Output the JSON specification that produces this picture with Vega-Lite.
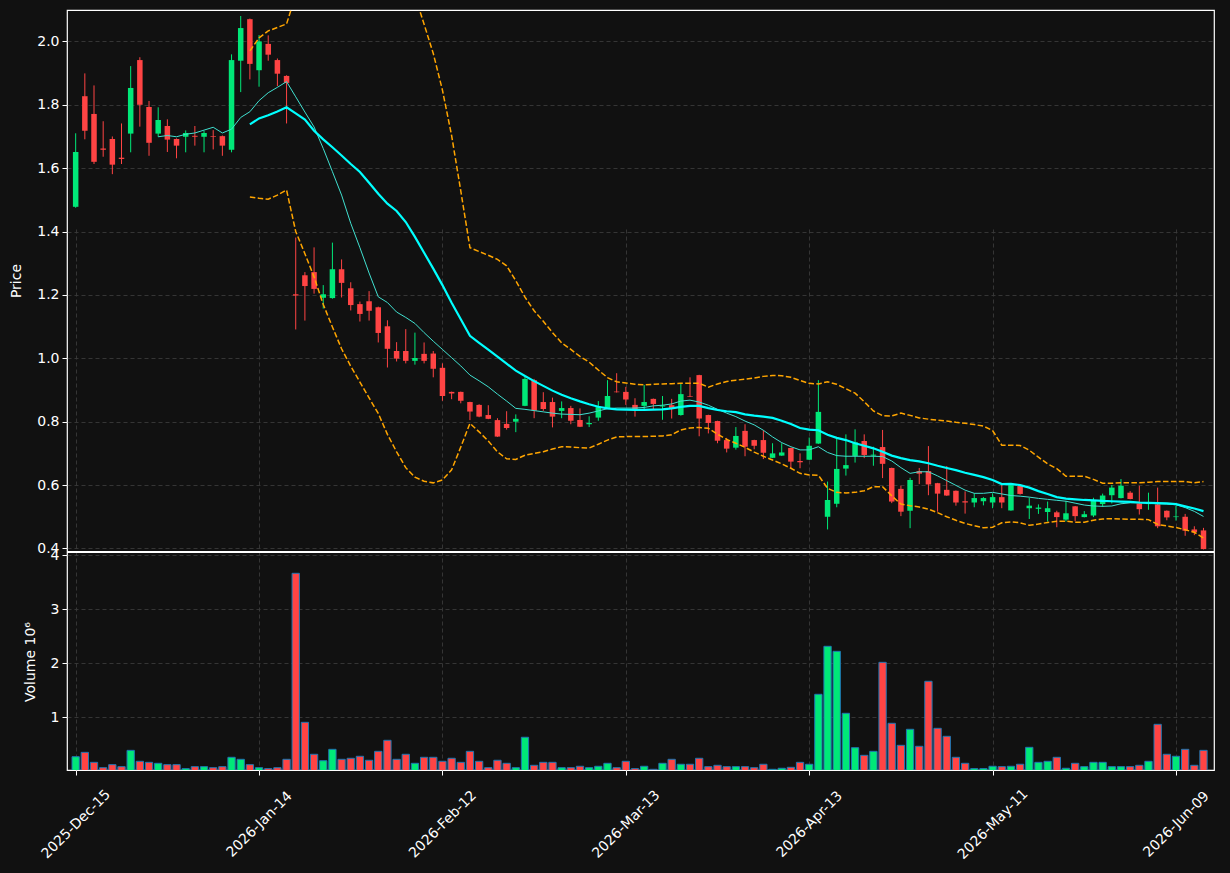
{
"$schema":"https://vega.github.io/schema/vega-lite/v6.json",
"width":1147,"height":760,
"autosize":{"type":"none"},
"padding":{"left":67,"top":10,"right":16,"bottom":103},
"background":"#111111",
"config":{
 "view":{"stroke":"#ffffff","strokeWidth":1.2},
 "font":"DejaVu Sans",
 "axis":{"labelColor":"#ffffff","titleColor":"#ffffff","tickColor":"#ffffff","domain":false,"labelFont":"DejaVu Sans","titleFont":"DejaVu Sans","labelFontSize":14,"titleFontSize":14,"titleFontWeight":"normal","gridColor":"#3a3a3a","gridDash":[4,3],"gridWidth":0.9,"tickSize":5,"tickWidth":1}
},
"data":{"values":[
{"i":0,"d":"2025-12-15","o":1.478,"h":1.710,"l":1.475,"c":1.651,"v":270000},
{"i":1,"d":"2025-12-16","o":1.827,"h":1.899,"l":1.691,"c":1.718,"v":351000},
{"i":2,"d":"2025-12-17","o":1.771,"h":1.861,"l":1.613,"c":1.620,"v":166000},
{"i":3,"d":"2025-12-18","o":1.662,"h":1.748,"l":1.636,"c":1.658,"v":67000},
{"i":4,"d":"2025-12-19","o":1.692,"h":1.700,"l":1.581,"c":1.611,"v":123000},
{"i":5,"d":"2025-12-22","o":1.633,"h":1.741,"l":1.613,"c":1.629,"v":86000},
{"i":6,"d":"2025-12-23","o":1.709,"h":1.922,"l":1.650,"c":1.853,"v":388000},
{"i":7,"d":"2025-12-24","o":1.941,"h":1.950,"l":1.731,"c":1.800,"v":185000},
{"i":8,"d":"2025-12-26","o":1.793,"h":1.812,"l":1.639,"c":1.680,"v":166000},
{"i":9,"d":"2025-12-29","o":1.709,"h":1.792,"l":1.699,"c":1.752,"v":148000,"ma10":1.699},
{"i":10,"d":"2025-12-30","o":1.733,"h":1.754,"l":1.651,"c":1.690,"v":123000,"ma10":1.703},
{"i":11,"d":"2025-12-31","o":1.692,"h":1.694,"l":1.631,"c":1.671,"v":123000,"ma10":1.699},
{"i":12,"d":"2026-01-02","o":1.699,"h":1.719,"l":1.650,"c":1.711,"v":49000,"ma10":1.707},
{"i":13,"d":"2026-01-05","o":1.702,"h":1.733,"l":1.671,"c":1.699,"v":86000,"ma10":1.711},
{"i":14,"d":"2026-01-06","o":1.699,"h":1.718,"l":1.650,"c":1.711,"v":86000,"ma10":1.720},
{"i":15,"d":"2026-01-07","o":1.701,"h":1.720,"l":1.659,"c":1.699,"v":67000,"ma10":1.729},
{"i":16,"d":"2026-01-08","o":1.701,"h":1.703,"l":1.639,"c":1.671,"v":86000,"ma10":1.711},
{"i":17,"d":"2026-01-09","o":1.658,"h":1.959,"l":1.650,"c":1.941,"v":259000,"ma10":1.723},
{"i":18,"d":"2026-01-12","o":1.939,"h":2.080,"l":1.840,"c":2.042,"v":222000,"ma10":1.760},
{"i":19,"d":"2026-01-13","o":2.070,"h":2.072,"l":1.880,"c":1.929,"v":123000,"ma10":1.778,"ma20":1.738,"bbu":1.970,"bbl":1.509},
{"i":20,"d":"2026-01-14","o":1.909,"h":2.020,"l":1.857,"c":2.000,"v":67000,"ma10":1.813,"ma20":1.757,"bbu":2.011,"bbl":1.505},
{"i":21,"d":"2026-01-15","o":1.992,"h":2.019,"l":1.939,"c":1.958,"v":49000,"ma10":1.838,"ma20":1.767,"bbu":2.033,"bbl":1.502},
{"i":22,"d":"2026-01-16","o":1.941,"h":1.946,"l":1.859,"c":1.898,"v":67000,"ma10":1.855,"ma20":1.779,"bbu":2.044,"bbl":1.515},
{"i":23,"d":"2026-01-20","o":1.891,"h":1.893,"l":1.741,"c":1.869,"v":222000,"ma10":1.873,"ma20":1.792,"bbu":2.055,"bbl":1.531},
{"i":24,"d":"2026-01-21","o":1.202,"h":1.381,"l":1.091,"c":1.198,"v":3667000,"ma10":1.825,"ma20":1.773,"bbu":2.146,"bbl":1.400},
{"i":25,"d":"2026-01-22","o":1.262,"h":1.272,"l":1.119,"c":1.228,"v":907000,"ma10":1.777,"ma20":1.753,"bbu":2.176,"bbl":1.330},
{"i":26,"d":"2026-01-23","o":1.272,"h":1.350,"l":1.204,"c":1.219,"v":315000,"ma10":1.730,"ma20":1.718,"bbu":2.179,"bbl":1.257},
{"i":27,"d":"2026-01-26","o":1.191,"h":1.231,"l":1.157,"c":1.202,"v":196000,"ma10":1.662,"ma20":1.691,"bbu":2.212,"bbl":1.170},
{"i":28,"d":"2026-01-27","o":1.190,"h":1.365,"l":1.188,"c":1.281,"v":407000,"ma10":1.589,"ma20":1.666,"bbu":2.233,"bbl":1.099},
{"i":29,"d":"2026-01-28","o":1.281,"h":1.312,"l":1.192,"c":1.238,"v":222000,"ma10":1.515,"ma20":1.640,"bbu":2.250,"bbl":1.030},
{"i":30,"d":"2026-01-29","o":1.221,"h":1.240,"l":1.151,"c":1.168,"v":241000,"ma10":1.426,"ma20":1.613,"bbu":2.251,"bbl":0.975},
{"i":31,"d":"2026-01-30","o":1.171,"h":1.179,"l":1.116,"c":1.140,"v":278000,"ma10":1.349,"ma20":1.588,"bbu":2.251,"bbl":0.925},
{"i":32,"d":"2026-02-02","o":1.180,"h":1.212,"l":1.119,"c":1.150,"v":204000,"ma10":1.269,"ma20":1.554,"bbu":2.233,"bbl":0.875},
{"i":33,"d":"2026-02-03","o":1.161,"h":1.163,"l":1.050,"c":1.080,"v":370000,"ma10":1.194,"ma20":1.519,"bbu":2.212,"bbl":0.826},
{"i":34,"d":"2026-02-04","o":1.101,"h":1.120,"l":0.971,"c":1.030,"v":574000,"ma10":1.176,"ma20":1.488,"bbu":2.216,"bbl":0.760},
{"i":35,"d":"2026-02-05","o":1.023,"h":1.051,"l":0.990,"c":0.999,"v":222000,"ma10":1.146,"ma20":1.465,"bbu":2.225,"bbl":0.705},
{"i":36,"d":"2026-02-06","o":1.023,"h":1.092,"l":0.984,"c":0.992,"v":315000,"ma10":1.129,"ma20":1.430,"bbu":2.205,"bbl":0.655},
{"i":37,"d":"2026-02-09","o":0.992,"h":1.081,"l":0.980,"c":1.001,"v":148000,"ma10":1.110,"ma20":1.383,"bbu":2.144,"bbl":0.625},
{"i":38,"d":"2026-02-10","o":1.014,"h":1.050,"l":0.984,"c":0.992,"v":259000,"ma10":1.081,"ma20":1.333,"bbu":2.054,"bbl":0.612},
{"i":39,"d":"2026-02-11","o":1.015,"h":1.023,"l":0.940,"c":0.967,"v":259000,"ma10":1.054,"ma20":1.283,"bbu":1.962,"bbl":0.607},
{"i":40,"d":"2026-02-12","o":0.970,"h":0.984,"l":0.866,"c":0.881,"v":185000,"ma10":1.028,"ma20":1.231,"bbu":1.846,"bbl":0.616},
{"i":41,"d":"2026-02-13","o":0.894,"h":0.895,"l":0.871,"c":0.889,"v":241000,"ma10":1.002,"ma20":1.175,"bbu":1.703,"bbl":0.648},
{"i":42,"d":"2026-02-17","o":0.894,"h":0.895,"l":0.858,"c":0.866,"v":166000,"ma10":0.976,"ma20":1.123,"bbu":1.528,"bbl":0.720},
{"i":43,"d":"2026-02-18","o":0.862,"h":0.863,"l":0.805,"c":0.832,"v":370000,"ma10":0.947,"ma20":1.071,"bbu":1.349,"bbl":0.795},
{"i":44,"d":"2026-02-19","o":0.853,"h":0.855,"l":0.814,"c":0.816,"v":185000,"ma10":0.929,"ma20":1.049,"bbu":1.337,"bbl":0.768},
{"i":45,"d":"2026-02-20","o":0.821,"h":0.852,"l":0.808,"c":0.809,"v":67000,"ma10":0.910,"ma20":1.027,"bbu":1.325,"bbl":0.739},
{"i":46,"d":"2026-02-23","o":0.805,"h":0.811,"l":0.752,"c":0.753,"v":204000,"ma10":0.887,"ma20":1.005,"bbu":1.312,"bbl":0.705},
{"i":47,"d":"2026-02-24","o":0.793,"h":0.833,"l":0.775,"c":0.780,"v":148000,"ma10":0.865,"ma20":0.983,"bbu":1.292,"bbl":0.683},
{"i":48,"d":"2026-02-25","o":0.800,"h":0.823,"l":0.767,"c":0.809,"v":67000,"ma10":0.842,"ma20":0.961,"bbu":1.245,"bbl":0.681},
{"i":49,"d":"2026-02-26","o":0.850,"h":0.947,"l":0.849,"c":0.935,"v":630000,"ma10":0.839,"ma20":0.944,"bbu":1.193,"bbl":0.694},
{"i":50,"d":"2026-02-27","o":0.931,"h":0.935,"l":0.811,"c":0.835,"v":111000,"ma10":0.835,"ma20":0.928,"bbu":1.150,"bbl":0.700},
{"i":51,"d":"2026-03-02","o":0.862,"h":0.893,"l":0.834,"c":0.840,"v":166000,"ma10":0.831,"ma20":0.913,"bbu":1.117,"bbl":0.705},
{"i":52,"d":"2026-03-03","o":0.862,"h":0.876,"l":0.782,"c":0.816,"v":166000,"ma10":0.827,"ma20":0.898,"bbu":1.081,"bbl":0.714},
{"i":53,"d":"2026-03-04","o":0.834,"h":0.864,"l":0.811,"c":0.843,"v":67000,"ma10":0.824,"ma20":0.885,"bbu":1.049,"bbl":0.721},
{"i":54,"d":"2026-03-05","o":0.843,"h":0.850,"l":0.792,"c":0.803,"v":67000,"ma10":0.823,"ma20":0.874,"bbu":1.028,"bbl":0.720},
{"i":55,"d":"2026-03-06","o":0.805,"h":0.842,"l":0.783,"c":0.784,"v":93000,"ma10":0.822,"ma20":0.864,"bbu":1.006,"bbl":0.718},
{"i":56,"d":"2026-03-09","o":0.792,"h":0.817,"l":0.783,"c":0.796,"v":67000,"ma10":0.827,"ma20":0.855,"bbu":0.988,"bbl":0.717},
{"i":57,"d":"2026-03-10","o":0.813,"h":0.865,"l":0.803,"c":0.846,"v":93000,"ma10":0.834,"ma20":0.847,"bbu":0.963,"bbl":0.729},
{"i":58,"d":"2026-03-11","o":0.843,"h":0.931,"l":0.842,"c":0.881,"v":148000,"ma10":0.841,"ma20":0.842,"bbu":0.939,"bbl":0.742},
{"i":59,"d":"2026-03-12","o":0.895,"h":0.953,"l":0.892,"c":0.893,"v":67000,"ma10":0.843,"ma20":0.839,"bbu":0.926,"bbl":0.752},
{"i":60,"d":"2026-03-13","o":0.894,"h":0.910,"l":0.853,"c":0.870,"v":185000,"ma10":0.843,"ma20":0.838,"bbu":0.922,"bbl":0.753},
{"i":61,"d":"2026-03-16","o":0.853,"h":0.874,"l":0.816,"c":0.840,"v":49000,"ma10":0.843,"ma20":0.837,"bbu":0.918,"bbl":0.753},
{"i":62,"d":"2026-03-17","o":0.850,"h":0.916,"l":0.840,"c":0.862,"v":93000,"ma10":0.845,"ma20":0.837,"bbu":0.916,"bbl":0.753},
{"i":63,"d":"2026-03-18","o":0.872,"h":0.873,"l":0.840,"c":0.856,"v":37000,"ma10":0.850,"ma20":0.838,"bbu":0.918,"bbl":0.754},
{"i":64,"d":"2026-03-19","o":0.848,"h":0.881,"l":0.806,"c":0.851,"v":148000,"ma10":0.852,"ma20":0.839,"bbu":0.919,"bbl":0.755},
{"i":65,"d":"2026-03-20","o":0.852,"h":0.872,"l":0.810,"c":0.840,"v":222000,"ma10":0.856,"ma20":0.842,"bbu":0.920,"bbl":0.759},
{"i":66,"d":"2026-03-23","o":0.821,"h":0.921,"l":0.819,"c":0.887,"v":130000,"ma10":0.865,"ma20":0.847,"bbu":0.921,"bbl":0.774},
{"i":67,"d":"2026-03-24","o":0.881,"h":0.940,"l":0.878,"c":0.879,"v":130000,"ma10":0.868,"ma20":0.850,"bbu":0.921,"bbl":0.780},
{"i":68,"d":"2026-03-25","o":0.947,"h":0.948,"l":0.754,"c":0.810,"v":241000,"ma10":0.862,"ma20":0.850,"bbu":0.921,"bbl":0.782},
{"i":69,"d":"2026-03-26","o":0.821,"h":0.822,"l":0.763,"c":0.796,"v":86000,"ma10":0.852,"ma20":0.843,"bbu":0.909,"bbl":0.779},
{"i":70,"d":"2026-03-27","o":0.802,"h":0.803,"l":0.732,"c":0.740,"v":111000,"ma10":0.839,"ma20":0.837,"bbu":0.919,"bbl":0.761},
{"i":71,"d":"2026-03-30","o":0.742,"h":0.749,"l":0.703,"c":0.715,"v":86000,"ma10":0.827,"ma20":0.833,"bbu":0.927,"bbl":0.744},
{"i":72,"d":"2026-03-31","o":0.718,"h":0.783,"l":0.712,"c":0.755,"v":86000,"ma10":0.816,"ma20":0.830,"bbu":0.931,"bbl":0.732},
{"i":73,"d":"2026-04-01","o":0.771,"h":0.792,"l":0.691,"c":0.721,"v":86000,"ma10":0.802,"ma20":0.823,"bbu":0.934,"bbl":0.719},
{"i":74,"d":"2026-04-02","o":0.742,"h":0.743,"l":0.713,"c":0.724,"v":67000,"ma10":0.790,"ma20":0.819,"bbu":0.938,"bbl":0.704},
{"i":75,"d":"2026-04-06","o":0.742,"h":0.773,"l":0.682,"c":0.702,"v":130000,"ma10":0.773,"ma20":0.816,"bbu":0.943,"bbl":0.691},
{"i":76,"d":"2026-04-07","o":0.686,"h":0.732,"l":0.685,"c":0.700,"v":37000,"ma10":0.752,"ma20":0.812,"bbu":0.946,"bbl":0.679},
{"i":77,"d":"2026-04-08","o":0.693,"h":0.732,"l":0.692,"c":0.703,"v":56000,"ma10":0.734,"ma20":0.803,"bbu":0.945,"bbl":0.667},
{"i":78,"d":"2026-04-09","o":0.717,"h":0.718,"l":0.653,"c":0.674,"v":74000,"ma10":0.721,"ma20":0.793,"bbu":0.940,"bbl":0.653},
{"i":79,"d":"2026-04-10","o":0.676,"h":0.700,"l":0.653,"c":0.672,"v":166000,"ma10":0.711,"ma20":0.780,"bbu":0.930,"bbl":0.637},
{"i":80,"d":"2026-04-13","o":0.680,"h":0.750,"l":0.679,"c":0.724,"v":130000,"ma10":0.711,"ma20":0.775,"bbu":0.921,"bbl":0.632},
{"i":81,"d":"2026-04-14","o":0.731,"h":0.931,"l":0.730,"c":0.831,"v":1426000,"ma10":0.721,"ma20":0.773,"bbu":0.919,"bbl":0.631},
{"i":82,"d":"2026-04-15","o":0.500,"h":0.611,"l":0.460,"c":0.553,"v":2315000,"ma10":0.703,"ma20":0.759,"bbu":0.926,"bbl":0.590},
{"i":83,"d":"2026-04-16","o":0.541,"h":0.748,"l":0.530,"c":0.651,"v":2222000,"ma10":0.693,"ma20":0.749,"bbu":0.918,"bbl":0.577},
{"i":84,"d":"2026-04-17","o":0.652,"h":0.760,"l":0.630,"c":0.663,"v":1074000,"ma10":0.691,"ma20":0.742,"bbu":0.904,"bbl":0.575},
{"i":85,"d":"2026-04-20","o":0.692,"h":0.776,"l":0.671,"c":0.735,"v":437000,"ma10":0.691,"ma20":0.732,"bbu":0.890,"bbl":0.577},
{"i":86,"d":"2026-04-21","o":0.739,"h":0.760,"l":0.685,"c":0.695,"v":296000,"ma10":0.691,"ma20":0.724,"bbu":0.863,"bbl":0.582},
{"i":87,"d":"2026-04-22","o":0.693,"h":0.721,"l":0.661,"c":0.696,"v":370000,"ma10":0.691,"ma20":0.716,"bbu":0.834,"bbl":0.595},
{"i":88,"d":"2026-04-23","o":0.720,"h":0.774,"l":0.622,"c":0.667,"v":2018000,"ma10":0.690,"ma20":0.705,"bbu":0.819,"bbl":0.595},
{"i":89,"d":"2026-04-24","o":0.654,"h":0.655,"l":0.543,"c":0.548,"v":889000,"ma10":0.676,"ma20":0.693,"bbu":0.818,"bbl":0.566},
{"i":90,"d":"2026-04-27","o":0.588,"h":0.598,"l":0.502,"c":0.516,"v":481000,"ma10":0.655,"ma20":0.685,"bbu":0.827,"bbl":0.540},
{"i":91,"d":"2026-04-28","o":0.519,"h":0.623,"l":0.464,"c":0.616,"v":778000,"ma10":0.637,"ma20":0.679,"bbu":0.820,"bbl":0.535},
{"i":92,"d":"2026-04-29","o":0.644,"h":0.654,"l":0.603,"c":0.636,"v":463000,"ma10":0.642,"ma20":0.675,"bbu":0.812,"bbl":0.531},
{"i":93,"d":"2026-04-30","o":0.644,"h":0.723,"l":0.568,"c":0.602,"v":1667000,"ma10":0.642,"ma20":0.669,"bbu":0.808,"bbl":0.524},
{"i":94,"d":"2026-05-01","o":0.606,"h":0.607,"l":0.516,"c":0.573,"v":796000,"ma10":0.629,"ma20":0.661,"bbu":0.805,"bbl":0.513},
{"i":95,"d":"2026-05-04","o":0.585,"h":0.660,"l":0.566,"c":0.567,"v":648000,"ma10":0.614,"ma20":0.654,"bbu":0.802,"bbl":0.500},
{"i":96,"d":"2026-05-05","o":0.582,"h":0.583,"l":0.535,"c":0.545,"v":259000,"ma10":0.599,"ma20":0.647,"bbu":0.798,"bbl":0.489},
{"i":97,"d":"2026-05-06","o":0.549,"h":0.580,"l":0.510,"c":0.545,"v":148000,"ma10":0.584,"ma20":0.639,"bbu":0.795,"bbl":0.479},
{"i":98,"d":"2026-05-07","o":0.545,"h":0.574,"l":0.530,"c":0.559,"v":49000,"ma10":0.574,"ma20":0.632,"bbu":0.791,"bbl":0.472},
{"i":99,"d":"2026-05-08","o":0.549,"h":0.562,"l":0.536,"c":0.559,"v":49000,"ma10":0.574,"ma20":0.625,"bbu":0.786,"bbl":0.465},
{"i":100,"d":"2026-05-11","o":0.545,"h":0.574,"l":0.527,"c":0.562,"v":93000,"ma10":0.577,"ma20":0.616,"bbu":0.772,"bbl":0.467},
{"i":101,"d":"2026-05-12","o":0.562,"h":0.602,"l":0.527,"c":0.545,"v":86000,"ma10":0.572,"ma20":0.603,"bbu":0.726,"bbl":0.481},
{"i":102,"d":"2026-05-13","o":0.520,"h":0.606,"l":0.519,"c":0.600,"v":93000,"ma10":0.567,"ma20":0.604,"bbu":0.726,"bbl":0.484},
{"i":103,"d":"2026-05-14","o":0.597,"h":0.598,"l":0.570,"c":0.572,"v":130000,"ma10":0.565,"ma20":0.600,"bbu":0.725,"bbl":0.481},
{"i":104,"d":"2026-05-15","o":0.527,"h":0.560,"l":0.493,"c":0.535,"v":444000,"ma10":0.562,"ma20":0.592,"bbu":0.710,"bbl":0.473},
{"i":105,"d":"2026-05-18","o":0.525,"h":0.539,"l":0.509,"c":0.529,"v":166000,"ma10":0.558,"ma20":0.581,"bbu":0.688,"bbl":0.477},
{"i":106,"d":"2026-05-19","o":0.515,"h":0.548,"l":0.485,"c":0.527,"v":185000,"ma10":0.555,"ma20":0.572,"bbu":0.667,"bbl":0.482},
{"i":107,"d":"2026-05-20","o":0.514,"h":0.519,"l":0.467,"c":0.499,"v":259000,"ma10":0.552,"ma20":0.562,"bbu":0.652,"bbl":0.486},
{"i":108,"d":"2026-05-21","o":0.491,"h":0.550,"l":0.485,"c":0.511,"v":56000,"ma10":0.549,"ma20":0.557,"bbu":0.628,"bbl":0.486},
{"i":109,"d":"2026-05-22","o":0.533,"h":0.534,"l":0.486,"c":0.502,"v":148000,"ma10":0.543,"ma20":0.555,"bbu":0.628,"bbl":0.483},
{"i":110,"d":"2026-05-26","o":0.499,"h":0.518,"l":0.498,"c":0.508,"v":86000,"ma10":0.537,"ma20":0.553,"bbu":0.628,"bbl":0.483},
{"i":111,"d":"2026-05-27","o":0.504,"h":0.560,"l":0.499,"c":0.552,"v":166000,"ma10":0.534,"ma20":0.552,"bbu":0.618,"bbl":0.489},
{"i":112,"d":"2026-05-28","o":0.540,"h":0.573,"l":0.531,"c":0.567,"v":166000,"ma10":0.533,"ma20":0.550,"bbu":0.606,"bbl":0.493},
{"i":113,"d":"2026-05-29","o":0.568,"h":0.600,"l":0.542,"c":0.592,"v":86000,"ma10":0.534,"ma20":0.549,"bbu":0.606,"bbl":0.494},
{"i":114,"d":"2026-06-01","o":0.559,"h":0.619,"l":0.558,"c":0.598,"v":86000,"ma10":0.541,"ma20":0.548,"bbu":0.607,"bbl":0.493},
{"i":115,"d":"2026-06-02","o":0.576,"h":0.581,"l":0.555,"c":0.556,"v":86000,"ma10":0.544,"ma20":0.547,"bbu":0.607,"bbl":0.492},
{"i":116,"d":"2026-06-03","o":0.542,"h":0.598,"l":0.507,"c":0.524,"v":111000,"ma10":0.544,"ma20":0.545,"bbu":0.607,"bbl":0.492},
{"i":117,"d":"2026-06-04","o":0.540,"h":0.576,"l":0.522,"c":0.543,"v":185000,"ma10":0.543,"ma20":0.544,"bbu":0.609,"bbl":0.491},
{"i":118,"d":"2026-06-05","o":0.539,"h":0.592,"l":0.464,"c":0.470,"v":870000,"ma10":0.541,"ma20":0.543,"bbu":0.611,"bbl":0.476},
{"i":119,"d":"2026-06-08","o":0.519,"h":0.520,"l":0.489,"c":0.498,"v":315000,"ma10":0.540,"ma20":0.542,"bbu":0.611,"bbl":0.471},
{"i":120,"d":"2026-06-09","o":0.499,"h":0.534,"l":0.488,"c":0.501,"v":278000,"ma10":0.538,"ma20":0.540,"bbu":0.611,"bbl":0.466},
{"i":121,"d":"2026-06-10","o":0.500,"h":0.509,"l":0.440,"c":0.456,"v":407000,"ma10":0.529,"ma20":0.533,"bbu":0.611,"bbl":0.459},
{"i":122,"d":"2026-06-11","o":0.460,"h":0.470,"l":0.442,"c":0.451,"v":111000,"ma10":0.517,"ma20":0.526,"bbu":0.607,"bbl":0.451},
{"i":123,"d":"2026-06-12","o":0.457,"h":0.465,"l":0.397,"c":0.398,"v":388000,"ma10":0.501,"ma20":0.518,"bbu":0.611,"bbl":0.433}
]},
"layer":[
 {"layer":[
  {"mark":{"type":"rule","strokeWidth":1,"clip":true},
   "encoding":{
    "x":{"field":"i","type":"quantitative","title":null,"scale":{"domain":[-0.4,123.6],"nice":false,"zero":false},
      "axis":{"values":[0,20,40,60,80,100,120],"grid":true,"title":null,"labelFlush":false,"labelOverlap":false,"labelAngle":-45,"labelAlign":"center","labelBaseline":"middle","labelPadding":49,
       "labelExpr":"datum.value == 0 ? '2025-Dec-15' : datum.value == 20 ? '2026-Jan-14' : datum.value == 40 ? '2026-Feb-12' : datum.value == 60 ? '2026-Mar-13' : datum.value == 80 ? '2026-Apr-13' : datum.value == 100 ? '2026-May-11' : '2026-Jun-09'"}},
    "y":{"field":"l","type":"quantitative","title":"Price","scale":{"domain":[0.392,2.099],"range":[541,0],"nice":false,"zero":false},
      "axis":{"orient":"left","values":[0.4,0.6,0.8,1.0,1.2,1.4,1.6,1.8,2.0],"format":".1f","grid":true,"labelPadding":3,"titlePadding":13}},
    "y2":{"field":"h"},
    "color":{"condition":{"test":"datum.c >= datum.o","value":"#00e878"},"value":"#ff4444"}
   }},
  {"mark":{"type":"bar","width":5.5,"clip":true},
   "encoding":{
    "x":{"field":"i","type":"quantitative","title":null},
    "y":{"field":"o","type":"quantitative","title":"Price"},
    "y2":{"field":"c"},
    "color":{"condition":{"test":"datum.c >= datum.o","value":"#00e878"},"value":"#ff4444"}
   }},
  {"mark":{"type":"line","color":"#ffa500","strokeWidth":1.5,"strokeDash":[5.5,2.4],"clip":true},
   "encoding":{"x":{"field":"i","type":"quantitative","title":null},"y":{"field":"bbu","type":"quantitative","title":"Price"}}},
  {"mark":{"type":"line","color":"#ffa500","strokeWidth":1.5,"strokeDash":[5.5,2.4],"clip":true},
   "encoding":{"x":{"field":"i","type":"quantitative","title":null},"y":{"field":"bbl","type":"quantitative","title":"Price"}}},
  {"mark":{"type":"line","color":"#40e0d0","strokeWidth":1,"clip":true},
   "encoding":{"x":{"field":"i","type":"quantitative","title":null},"y":{"field":"ma10","type":"quantitative","title":"Price"}}},
  {"mark":{"type":"line","color":"#00ffff","strokeWidth":2.2,"clip":true},
   "encoding":{"x":{"field":"i","type":"quantitative","title":null},"y":{"field":"ma20","type":"quantitative","title":"Price"}}},
  {"data":{"values":[{}]},
   "mark":{"type":"rule","color":"#ffffff","strokeWidth":2.2},
   "encoding":{"y":{"datum":0.3888,"type":"quantitative","title":"Price"}}}
 ]},
 {"layer":[
  {"mark":{"type":"bar","width":7.3,"stroke":"#1f77b4","strokeWidth":1,"clip":true},
   "encoding":{
    "x":{"field":"i","type":"quantitative","title":null},
    "y":{"field":"v","type":"quantitative","title":"Volume  10⁶","scale":{"domain":[24000,4043000],"range":[760,543],"nice":false,"zero":false},
      "axis":{"orient":"left","values":[1000000,2000000,3000000,4000000],"labelExpr":"datum.value / 1000000","grid":true,"labelPadding":3,"titlePadding":13}},
    "color":{"condition":{"test":"datum.c >= datum.o","value":"#00e878"},"value":"#ff4444"}
   }}
 ]}
],
"resolve":{"scale":{"y":"independent"},"axis":{"y":"independent"}}
}
